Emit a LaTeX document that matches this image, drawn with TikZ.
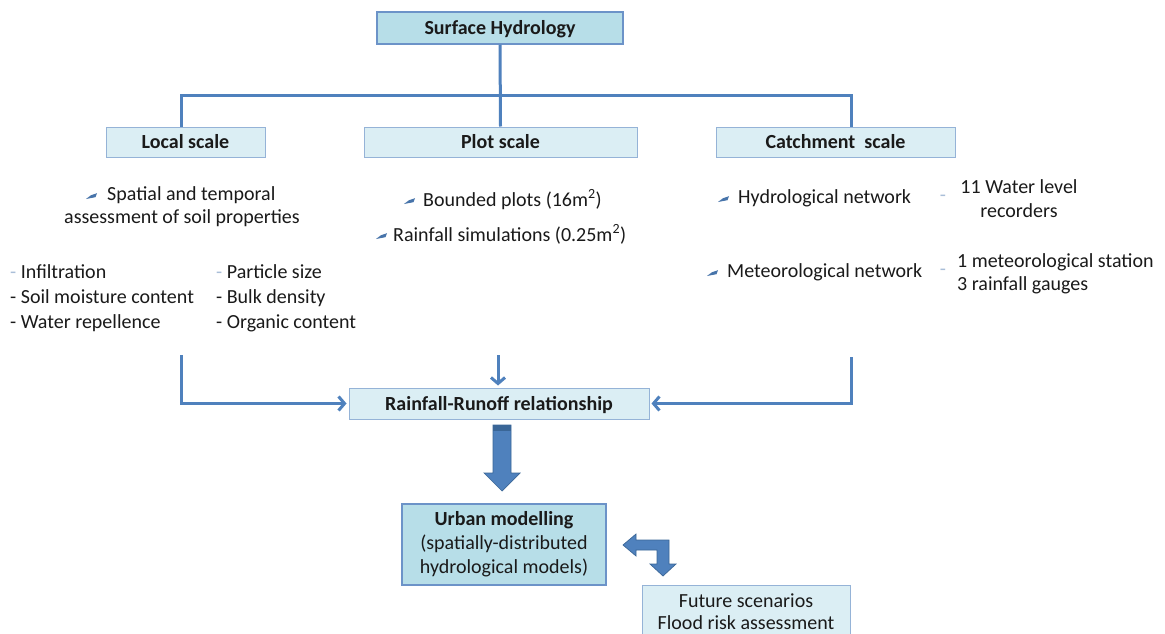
\documentclass[tikz,border=0pt]{standalone}
\usepackage{fontspec}
\setmainfont{Carlito}
\usetikzlibrary{arrows.meta}
\definecolor{lineb}{HTML}{4F81BD}
\definecolor{darkb}{HTML}{3A6697}
\definecolor{fillm}{HTML}{B7DEE8}
\definecolor{filll}{HTML}{DBEEF4}
\definecolor{bordm}{HTML}{6C93C8}
\definecolor{bordl}{HTML}{95B3D7}
\definecolor{dashc}{HTML}{A9BED8}
\definecolor{txt}{HTML}{1A1A1A}
\begin{document}
\begin{tikzpicture}[x=1pt,y=-1pt,
  every node/.style={font=\fontsize{20}{24}\selectfont, text=txt, inner sep=0pt},
  headbox/.style={draw=bordm, line width=1.5pt, fill=fillm, text height=13pt, text depth=0pt, font=\fontsize{20}{24}\selectfont\bfseries},
  scalebox/.style={draw=bordl, line width=1pt, fill=filll, text height=13pt, text depth=0pt, font=\fontsize{20}{24}\selectfont\bfseries},
  urbanbox/.style={draw=bordm, line width=1.5pt, fill=fillm, align=center},
  futbox/.style={draw=bordl, line width=1pt, fill=filll, align=center, inner xsep=0pt, inner ysep=8pt, font=\fontsize{20}{22}\selectfont},
  conn/.style={draw=lineb, line width=3pt},
  arr/.style={conn, -{Straight Barb[length=6pt,width=14pt]}, shorten >=2pt},
  blockarr/.style={fill=lineb, draw=darkb, line width=0.7pt, line join=miter},
  itemtext/.style={anchor=base west},
  blt/.pic={\fill[lineb!90!black] (0,3) -- (5,-0.8) -- (11,-2.8) -- (9.5,1.2) -- cycle;}
]
\useasboundingbox (0,0) rectangle (1165,634);
\clip (0,0) rectangle (1165,634);
\fill[white] (0,0) rectangle (1165,634);

% boxes
\node[headbox, minimum width=246pt, minimum height=32pt] (top) at (500,28) {Surface Hydrology};
\node[scalebox, minimum width=159pt, minimum height=30pt] (local) at (185.5,142) {Local scale};
\node[scalebox, minimum width=273pt, minimum height=30pt] (plot) at (500.5,142) {Plot scale};
\node[scalebox, minimum width=239pt, minimum height=30pt] (catch) at (835.5,142) {Catchment~ scale};
\node[scalebox, minimum width=300pt, minimum height=31pt] (rr) at (499,403.5) {Rainfall-Runoff relationship};
\node[urbanbox, minimum width=204pt, minimum height=81pt] (urb) at (504,544.5) {\textbf{Urban modelling}\\(spatially-distributed\\hydrological models)};
\node[futbox, minimum width=208pt, anchor=north] (fut) at (746,585) {Future scenarios\\Flood risk assessment};

% tree connectors
\coordinate (lc) at (181,95);
\coordinate (cc) at (851,95);
\draw[conn] (top.south) -- (plot.north);
\draw[conn] (lc |- local.north) -- (lc) -- (cc) -- (cc |- catch.north);

% arrows into Rainfall-Runoff
\coordinate (lb) at (181,355);
\coordinate (pb) at (498,355);
\coordinate (rb) at (851,357);
\draw[arr] (lb) |- (rr.west);
\draw[arr] (pb) -- (pb |- rr.north);
\draw[arr] (rb) |- (rr.east);

% block arrow down
\path[blockarr] (493,425) -- (511,425) -- (511,473) -- (520,473) -- (502,491) -- (484,473) -- (493,473) -- cycle;
\fill[darkb] (493.4,425.4) rectangle (510.6,431);

% bent arrow
\path[blockarr] (623,545) -- (636,534) -- (636,540) -- (669,540) -- (669,564) -- (676,564) -- (663,576) -- (650,564) -- (657,564) -- (657,550) -- (636,550) -- (636,556) -- cycle;

% local scale texts
\pic at (86,196) {blt};
\node[itemtext] (l1) at (107,200) {Spatial and temporal};
\node[anchor=base] (l2) at (182,223) {assessment of soil properties};
\node[itemtext] (a1) at (10,278) {{\color{dashc}-} Infiltration};
\node[itemtext] (a2) at (10,303) {- Soil moisture content};
\node[itemtext] (a3) at (10,328) {- Water repellence};
\node[itemtext] (b1) at (216,278) {{\color{dashc}-} Particle size};
\node[itemtext] (b2) at (216,303) {- Bulk density};
\node[itemtext] (b3) at (216,328) {- Organic content};

% plot scale texts
\pic at (404,201) {blt};
\node[itemtext] (p1) at (423,206) {Bounded plots (16m\textsuperscript{2})};
\pic at (376,236) {blt};
\node[itemtext] (p2) at (393,241) {Rainfall simulations (0.25m\textsuperscript{2})};

% catchment texts
\pic at (718,199) {blt};
\node[itemtext] (c1) at (738,203) {Hydrological network};
\pic at (707,273) {blt};
\node[itemtext] (c2) at (727,277) {Meteorological network};
\node[text=dashc] (d1) at (943,198) {-};
\node[text=dashc] (d2) at (943,272) {-};
\node[anchor=base] (w1) at (1019,193) {11 Water level};
\node[anchor=base] (w2) at (1019,217) {recorders};
\node[itemtext] (m1) at (957,267) {1 meteorological station};
\node[itemtext] (m2) at (957,290) {3 rainfall gauges};
\end{tikzpicture}
\end{document}
